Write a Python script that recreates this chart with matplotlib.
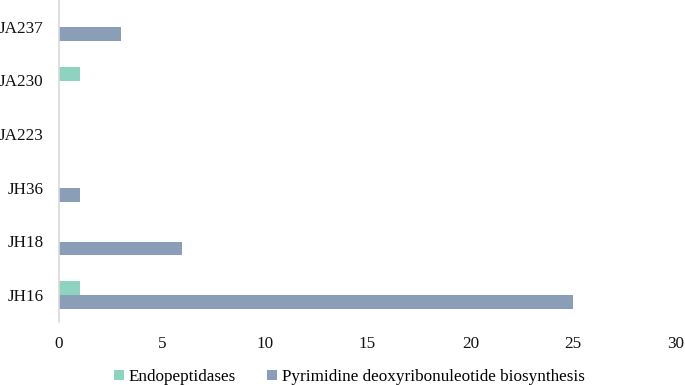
import numpy as np
import matplotlib.pyplot as plt

plt.rcParams["font.family"] = ["Liberation Serif", "DejaVu Serif"]

categories = ["JH16", "JH18", "JH36", "JA223", "JA230", "JA237"]
endopeptidases = [1, 0, 0, 0, 1, 0]
pyrimidine = [25, 6, 1, 0, 0, 3]

fig = plt.figure(figsize=(6.85, 3.85), dpi=100)
ax = fig.add_axes([59 / 685, 1 - 322 / 385, (676 - 59) / 685, 322 / 385])

y = np.arange(len(categories))
h = 0.26
ax.barh(y + h / 2, endopeptidases, height=h, color="#8ed3c0",
        label="Endopeptidases")
ax.barh(y - h / 2, pyrimidine, height=h, color="#8a9fb7",
        label="Pyrimidine deoxyribonuleotide biosynthesis")

ax.set_xlim(0, 30)
ax.set_ylim(-0.5, len(categories) - 0.5)
ax.set_xticks(np.arange(0, 31, 5))
ax.set_yticks(y)
ax.set_yticklabels(categories)
ax.tick_params(length=0, labelsize=12.3, colors="#111111")
ax.tick_params(axis="x", pad=10)
ax.tick_params(axis="y", pad=11)
for s in ["top", "right", "bottom"]:
    ax.spines[s].set_visible(False)
ax.spines["left"].set_color("#d9d9d9")
ax.spines["left"].set_linewidth(1.2)

fig.legend(loc="lower center", bbox_to_anchor=(0.51, -0.04), ncol=2,
           frameon=False, fontsize=12.3, handlelength=0.6, handleheight=0.6,
           handletextpad=0.3, columnspacing=1.8)

plt.savefig("out.png", dpi=100)
plt.close()
